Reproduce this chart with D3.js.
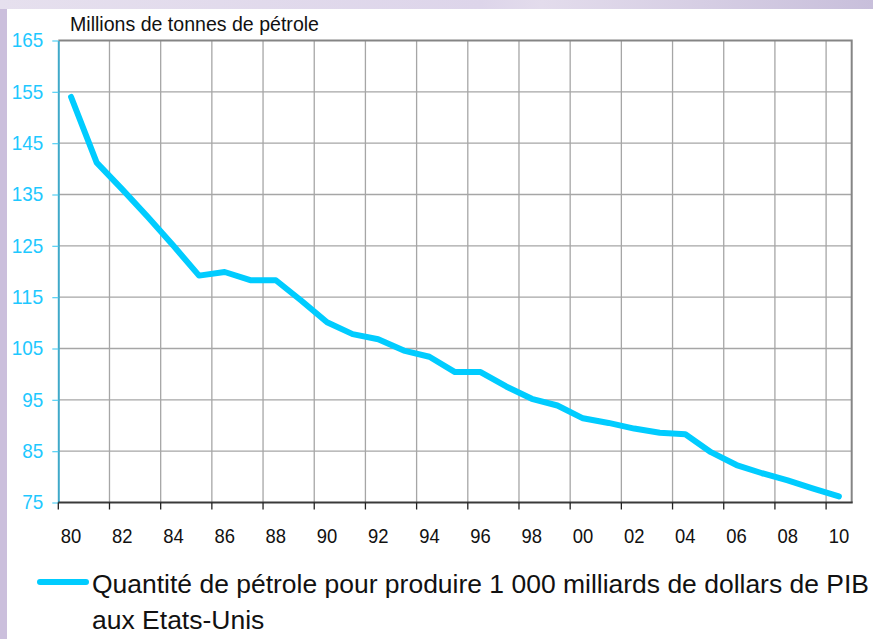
<!DOCTYPE html>
<html>
<head>
<meta charset="utf-8">
<script src="https://cdn.jsdelivr.net/npm/d3@7"></script>
<style>
  html, body { margin: 0; padding: 0; }
  body { width: 873px; height: 639px; overflow: hidden; }
  svg { display: block; font-family: "Liberation Sans", Arial, sans-serif; }
</style>
</head>
<body>
<svg id="chart" width="873" height="639"></svg>
<script>
const years = d3.range(1980, 2011);
const oilPerGdp = [
  154.0, 141.2, 136.0, 130.6, 125.0, 119.2, 119.9, 118.3, 118.3, 114.3,
  110.1, 107.8, 106.8, 104.6, 103.4, 100.4, 100.4, 97.6, 95.2, 93.9,
  91.4, 90.5, 89.4, 88.6, 88.3, 84.8, 82.3, 80.7, 79.3, 77.7, 76.2
];
const yTicks = [75, 85, 95, 105, 115, 125, 135, 145, 155, 165];
const xTickYears = years.filter((d) => d % 2 === 0);
const unitLabel = "Millions de tonnes de pétrole";
const legendLines = [
  "Quantité de pétrole pour produire 1 000 milliards de dollars de PIB",
  "aux Etats-Unis"
];

const svg = d3.select("#chart");
const W = 873, H = 639;
const plot = { left: 58.3, right: 851.7, top: 40.5, bottom: 502.5 };
const lineColor = "#00ccff";

// background frame
const defs = svg.append("defs");
const grad = defs.append("linearGradient").attr("id", "bg").attr("x1", 0).attr("x2", 1);
grad.append("stop").attr("offset", "0%").attr("stop-color", "#e6e0ee");
grad.append("stop").attr("offset", "55%").attr("stop-color", "#ddd5ea");
grad.append("stop").attr("offset", "62%").attr("stop-color", "#e3dcec");
grad.append("stop").attr("offset", "100%").attr("stop-color", "#c8bfdb");
svg.append("rect").attr("width", W).attr("height", H).attr("fill", "url(#bg)");
svg.append("rect").attr("x", 0).attr("y", 9).attr("width", 8).attr("height", H).attr("fill", "#cbbfdc");
svg.append("rect").attr("x", 7).attr("y", 9).attr("width", W - 7).attr("height", H - 9).attr("fill", "#ffffff");

const x = d3.scaleBand().domain(years).range([plot.left, plot.right]);
const y = d3.scaleLinear().domain([75, 165]).range([plot.bottom, plot.top]);

// grid
svg.append("g")
  .selectAll("line")
  .data(yTicks.filter((d) => d > 75 && d < 165))
  .join("line")
  .attr("x1", plot.left).attr("x2", plot.right)
  .attr("y1", (d) => y(d)).attr("y2", (d) => y(d))
  .attr("stroke", "#a6a6a6").attr("stroke-width", 1.3);

svg.append("g")
  .selectAll("line")
  .data(xTickYears.filter((d) => d > 1980))
  .join("line")
  .attr("x1", (d) => x(d)).attr("x2", (d) => x(d))
  .attr("y1", plot.top).attr("y2", plot.bottom)
  .attr("stroke", "#a6a6a6").attr("stroke-width", 1.3);

// frame top / right
svg.append("path")
  .attr("d", `M${plot.left},${plot.top}H${plot.right}V${plot.bottom}`)
  .attr("fill", "none").attr("stroke", "#858585").attr("stroke-width", 2);

// y axis
const yAxis = svg.append("g")
  .attr("transform", `translate(${plot.left},0)`)
  .call(d3.axisLeft(y).tickValues(yTicks).tickSize(6).tickPadding(9).tickSizeOuter(0));
yAxis.select(".domain").attr("stroke", "#3fa9c9").attr("stroke-width", 2);
yAxis.selectAll(".tick line").attr("stroke", "#5fd3f5").attr("stroke-width", 1.3);
yAxis.selectAll(".tick text")
  .attr("fill", "#1ec8ff")
  .attr("font-size", 21)
  .attr("font-family", "Liberation Sans, Arial, sans-serif")
  .attr("dy", "0.3em")
  .attr("textLength", (d) => String(d).length * 10.5)
  .attr("lengthAdjust", "spacingAndGlyphs");

// x axis
svg.append("line")
  .attr("x1", plot.left).attr("x2", plot.right + 1)
  .attr("y1", plot.bottom).attr("y2", plot.bottom)
  .attr("stroke", "#3a3a3a").attr("stroke-width", 2);

svg.append("g")
  .selectAll("line")
  .data(xTickYears)
  .join("line")
  .attr("x1", (d) => x(d)).attr("x2", (d) => x(d))
  .attr("y1", plot.bottom).attr("y2", plot.bottom + 7)
  .attr("stroke", "#222").attr("stroke-width", 1.3);

const xAxis = svg.append("g")
  .attr("transform", `translate(0,${plot.bottom})`)
  .call(d3.axisBottom(x).tickValues(xTickYears).tickSize(0).tickPadding(26)
    .tickFormat((d) => String(d).slice(2)));
xAxis.select(".domain").remove();
xAxis.selectAll(".tick text")
  .attr("fill", "#111")
  .attr("font-size", 20)
  .attr("font-family", "Liberation Sans, Arial, sans-serif")
  .attr("textLength", 20.5)
  .attr("lengthAdjust", "spacingAndGlyphs");

// unit label
svg.append("text")
  .attr("x", 70).attr("y", 31)
  .attr("font-size", 21)
  .attr("fill", "#111")
  .attr("textLength", 249)
  .attr("lengthAdjust", "spacingAndGlyphs")
  .text(unitLabel);

// series
const line = d3.line()
  .x((d, i) => x(years[i]) + x.bandwidth() / 2)
  .y((d) => y(d));

svg.append("path")
  .datum(oilPerGdp)
  .attr("fill", "none")
  .attr("stroke", lineColor)
  .attr("stroke-width", 6)
  .attr("stroke-linejoin", "round")
  .attr("stroke-linecap", "round")
  .attr("d", line);

// legend
svg.append("line")
  .attr("x1", 40).attr("x2", 86)
  .attr("y1", 582).attr("y2", 582)
  .attr("stroke", lineColor).attr("stroke-width", 6)
  .attr("stroke-linecap", "round");

svg.append("g")
  .selectAll("text")
  .data(legendLines)
  .join("text")
  .attr("x", 92)
  .attr("y", (d, i) => 593 + i * 36)
  .attr("font-size", 26.5)
  .attr("fill", "#111")
  .attr("textLength", (d, i) => (i === 0 ? 777 : null))
  .attr("lengthAdjust", "spacingAndGlyphs")
  .text((d) => d);
</script>
</body>
</html>
